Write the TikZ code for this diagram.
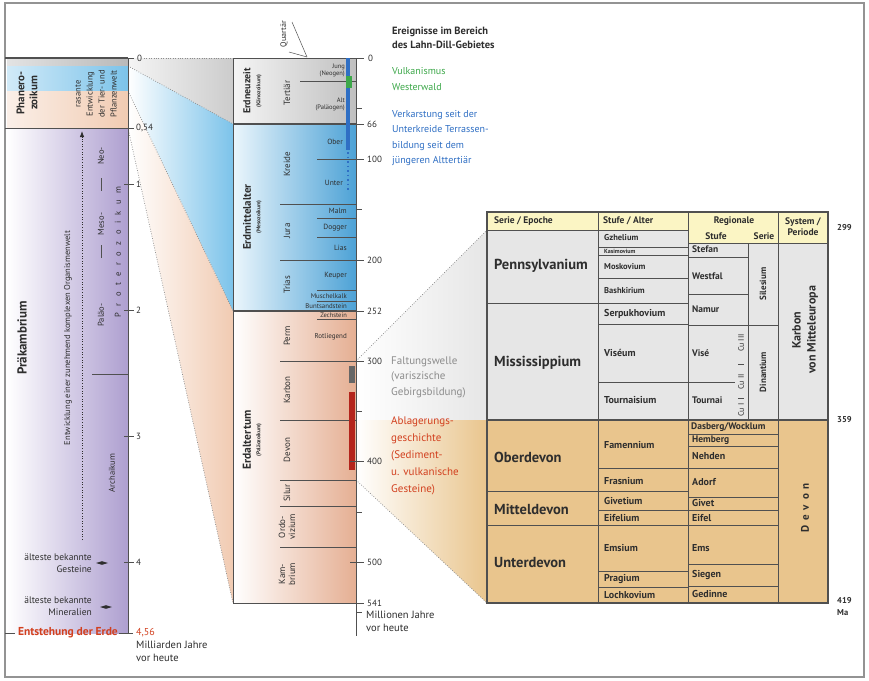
\documentclass[tikz,border=0pt]{standalone}
\usepackage{fontspec}
\setmainfont{PT Sans}
\usetikzlibrary{arrows.meta}
\definecolor{tabgrey}{HTML}{E6E6E6}
\definecolor{tabtan}{HTML}{E9C58D}
\definecolor{hdryel}{HTML}{FBF5C4}
\definecolor{lineg}{HTML}{505050}
\definecolor{meso}{HTML}{4DA2D6}
\definecolor{mesolt}{HTML}{7CC3EA}
\definecolor{paleo}{HTML}{E5AF93}
\definecolor{paleolt}{HTML}{F1CBB2}
\definecolor{kaeno}{HTML}{B9B9B9}
\definecolor{prae}{HTML}{AE9FD0}
\definecolor{evgreen}{HTML}{3DA84A}
\definecolor{evblue}{HTML}{2F6FC4}
\definecolor{evred}{HTML}{D2401F}
\definecolor{evgrey}{HTML}{8C8C8C}
\definecolor{txt}{HTML}{2E2E2E}
\definecolor{redbar}{HTML}{B3241B}
\newcommand{\fsz}[2]{\fontsize{#1}{#2}\selectfont}
\newcommand{\lsp}{\hspace{6.5pt}}
\newcommand{\dsp}{\hspace{5pt}}
\begin{document}
\begin{tikzpicture}[x=1pt,y=-1pt,
  sepl/.style={draw=lineg, line width=0.9pt},
  dotl/.style={draw=gray!90, line width=0.7pt, dash pattern=on 0.8pt off 1.6pt},
  lab/.style={inner sep=0pt, text=txt},
  rot/.style={lab, rotate=90, align=center},
  tk/.style={draw=lineg, line width=0.8pt},
  num/.style={lab, anchor=west, font=\fsz{9}{10}},
  colA/.style={lab, anchor=west, font=\fsz{14.5}{16}\bfseries},
  colB/.style={lab, anchor=west, font=\fsz{10}{11}\bfseries},
  colP/.style={lab, anchor=west, font=\fsz{8.5}{9}\bfseries},
  colR/.style={lab, anchor=west, font=\fsz{9.5}{10}\bfseries},
  hdr/.style={lab, font=\fsz{9.5}{10}\bfseries},
  sub/.style={lab, anchor=east, font=\fsz{7.5}{8}},
  ev/.style={lab, anchor=west, align=left, font=\fsz{10}{15.5}},
  tnum/.style={lab, anchor=west, font=\fsz{8.5}{9}\bfseries},
  per/.style={rot, font=\fsz{9}{10}},
]
\useasboundingbox (0,0) rectangle (869,680);
\fill[white] (0,0) rectangle (869,680);
\draw[gray!85, line width=1.2pt] (5,3) rectangle (864,677);

% ---------- wedges left -> middle
\shade[left color=gray!8, right color=gray!40] (128,58) -- (233,58) -- (233,124) -- (128,66) -- cycle;
\shade[left color=white, right color=mesolt] (128,66) -- (233,124) -- (233,311) -- (128,91) -- cycle;
\shade[left color=white, right color=paleolt] (128,91) -- (233,311) -- (233,603) -- (128,128) -- cycle;
\draw[dotl] (144,58) -- (233,58);
\draw[dotl] (128,66) -- (233,124);
\draw[dotl] (128,91) -- (233,311);
\draw[dotl] (128,128) -- (233,603);

% ---------- wedges middle -> table
\shade[left color=white, right color=tabgrey] (356,361) -- (487,230) -- (487,420) -- (356,420) -- cycle;
\shade[left color=white, right color=tabtan] (356,420) -- (487,420) -- (487,603) -- (356,480) -- cycle;
\draw[dotl] (356,361) -- (487,230);
\draw[dotl] (356,480) -- (487,603);

% ---------- left column
\shade[left color=kaeno!40, right color=kaeno] (7,58) rectangle (128,66);
\shade[left color=mesolt!35, right color=mesolt] (7,66) rectangle (128,91);
\shade[left color=paleolt!30, right color=paleolt] (7,91) rectangle (128,128);
\shade[left color=white, right color=prae] (7,128) rectangle (128,633);
\draw[lineg, line width=1.3pt] (5,58) -- (128,58);
\draw[lineg, line width=1pt] (5,128) -- (128,128);
\draw[lineg, line width=1pt] (128,58) -- (128,633);
\draw[lineg, line width=1pt] (92,374) -- (128,374);
\draw[lineg, line width=0.8pt] (5,633) -- (15,633);
\draw[lineg, line width=0.8pt] (119,633) -- (133,633);
\foreach \yy in {58,128,184,310,436,562} \draw[tk] (124,\yy) -- (134,\yy);

\node[num] (l0) at (137,58) {0};
\node[num] (l054) at (136,128) {0,54};
\node[num] (l1) at (136,184) {1};
\node[num] (l2) at (136,310) {2};
\node[num] (l3) at (136,436) {3};
\node[num] (l4) at (136,562) {4};
\node[num, text=evred, font=\fsz{10}{11}] (l456) at (136,633) {4,56};
\node[lab, anchor=north west, align=left, font=\fsz{10.5}{13}] (mrd) at (136,641) {Milliarden Jahre\\vor heute};

\node[rot, font=\fsz{11}{13}\bfseries] (phz) at (27,93) {Phanero-\\zoikum};
\node[rot, font=\fsz{8.5}{12}] (rasant) at (96,94) {rasante\\Entwicklung\\der Tier- und\\Pflanzenwelt};
\node[rot, font=\fsz{13}{15}\bfseries] (praek) at (22,338) {Präkambrium};
\node[rot, font=\fsz{8.5}{10}] (entw) at (68,338) {Entwicklung einer zunehmend komplexen Organismenwelt};
\node[rot, font=\fsz{8.5}{10}] (neo) at (101,156) {Neo-};
\node[rot, font=\fsz{8.5}{10}] (mesop) at (101,224) {Meso-};
\node[rot, font=\fsz{8.5}{10}] (palaeo) at (101,315) {Paläo-};
\node[rot, font=\fsz{8.5}{10}] (proter) at (118,252) {P\lsp r\lsp o\lsp t\lsp e\lsp r\lsp o\lsp z\lsp o\lsp i\lsp k\lsp u\lsp m};
\node[rot, font=\fsz{8.5}{10}] (arch) at (112,473) {Archaikum};
\draw[lineg, line width=0.8pt] (101,178) -- (101,191);
\draw[lineg, line width=0.8pt] (101,245) -- (101,258);

\coordinate (dA) at (82,540);
\coordinate (dB) at (82,131);
\draw[draw=txt, line width=0.8pt, dash pattern=on 1pt off 1.6pt, -{Latex[length=6pt,width=4.5pt]}] (dA) -- (dB);

\node[lab, anchor=east, align=right, font=\fsz{9.5}{12.5}] (gest) at (92,563) {älteste bekannte\\Gesteine};
\fill[txt] (96,563) -- (102,561.2) -- (108,563) -- (102,564.8) -- cycle;
\node[lab, anchor=east, align=right, font=\fsz{9.5}{12.5}] (miner) at (92,606) {älteste bekannte\\Mineralien};
\fill[txt] (100,607) -- (106,605.2) -- (112,607) -- (106,608.8) -- cycle;
\node[lab, anchor=east, font=\fsz{11.5}{12}\bfseries, text=evred] (erde) at (118,633) {Entstehung der Erde};

% ---------- middle column
\shade[left color=gray!8, right color=kaeno!90] (233,58) rectangle (356,124);
\shade[left color=mesolt!15, right color=meso] (233,124) rectangle (356,311);
\shade[left color=white, right color=paleo] (233,311) rectangle (356,603);
\draw[lineg, line width=1pt] (233,58) rectangle (356,603);
\draw[lineg, line width=1.2pt] (233,124) -- (356,124);
\draw[lineg, line width=1.2pt] (233,311) -- (356,311);
\foreach \yy in {204,260,361,420,480,506,547} \draw[sepl] (280,\yy) -- (356,\yy);
\foreach \yy in {159,218,237,290,301,319} \draw[sepl] (317,\yy) -- (356,\yy);
\draw[lineg, line width=0.5pt] (300,81) -- (356,81);

% bars
\fill[evblue] (346,58) rectangle (350,150);
\draw[evblue, line width=2.5pt, dash pattern=on 1.5pt off 3pt] (348,152) -- (348,190);
\fill[evgreen] (346,76) rectangle (352,88);
\fill[gray!80!black] (349,366) rectangle (355,383);
\fill[redbar] (349,392) rectangle (355,470);

% axis
\draw[lineg, line width=1pt] (356,58) -- (356,636);
\foreach \yy in {58,124,159,260,311,361,461,562,603} \draw[tk] (350,\yy) -- (364,\yy);
\foreach \yy in {108,209,411,512,612} \draw[tk] (356,\yy) -- (362,\yy);
\node[num] (m0) at (368,58) {0};
\node[num] (m66) at (367,124) {66};
\node[num] (m100) at (367,159) {100};
\node[num] (m200) at (367,260) {200};
\node[num] (m252) at (367,311) {252};
\node[num] (m300) at (367,361) {300};
\node[num] (m400) at (367,461) {400};
\node[num] (m500) at (367,562) {500};
\node[num] (m541) at (367,603) {541};
\node[lab, anchor=north west, align=left, font=\fsz{10.5}{13}] (mjv) at (366,611) {Millionen Jahre\\vor heute};

% Quartaer
\node[rot, font=\fsz{8}{9}] (quart) at (284,34) {Quartär};
\draw[lineg, line width=0.5pt] (292,22) -- (307,57);
\draw[lineg, line width=0.5pt] (289,52) -- (307,57);

% era labels
\node[rot, font=\fsz{10}{11}\bfseries] (ena) at (247,91) {Erdneuzeit};
\node[rot, font=\fsz{5.5}{7}\bfseries] (enb) at (259,91) {(Känozoikum)};
\node[rot, font=\fsz{11}{12}\bfseries] (ema) at (247,217) {Erdmittelalter};
\node[rot, font=\fsz{5.5}{7}\bfseries] (emb) at (259,217) {(Mesozoikum)};
\node[rot, font=\fsz{11.5}{12}\bfseries] (eaa) at (247,440) {Erdaltertum};
\node[rot, font=\fsz{5.5}{7}\bfseries] (eab) at (259,440) {(Paläozoikum)};

% periods
\node[per] (tert) at (287,93) {Tertiär};
\node[lab, anchor=east, align=right, font=\fsz{6.5}{7}] (jung) at (345,70) {Jung\\(Neogen)};
\node[lab, anchor=east, align=right, font=\fsz{6.5}{7}] (alt) at (345,104) {Alt\\(Paläogen)};
\node[per] (kreide) at (287,164) {Kreide};
\node[per] (jura) at (287,231) {Jura};
\node[per] (trias) at (287,285) {Trias};
\node[sub] (ober) at (343,142) {Ober};
\node[sub] (unter) at (343,183) {Unter};
\node[sub] (malm) at (347,211) {Malm};
\node[sub] (dogger) at (347,228) {Dogger};
\node[sub] (lias) at (347,248) {Lias};
\node[sub] (keuper) at (347,276) {Keuper};
\node[sub, font=\fsz{6.8}{7}] (musch) at (347,296) {Muschelkalk};
\node[sub, font=\fsz{6.8}{7}] (bunt) at (347,306) {Buntsandstein};
\node[sub, font=\fsz{6.5}{7}] (zech) at (347,315) {Zechstein};
\node[sub, font=\fsz{7}{7}] (rotl) at (347,337) {Rotliegend};
\node[per] (perm) at (287,336) {Perm};
\node[per] (karbon) at (287,390) {Karbon};
\node[per] (devon) at (287,450) {Devon};
\node[per] (silur) at (287,493) {Silur};
\node[per] (ordo) at (287,527) {Ordo-\\vizium};
\node[per] (kamb) at (287,574) {Kam-\\brium};

% ---------- event texts
\node[lab, anchor=west, align=left, font=\fsz{10.5}{13.5}\bfseries] (evt) at (392,38) {Ereignisse im Bereich\\des Lahn-Dill-Gebietes};
\node[ev, text=evgreen] (vulk) at (392,79) {Vulkanismus\\Westerwald};
\node[ev, text=evblue] (verk) at (392,138) {Verkarstung seit der\\Unterkreide Terrassen-\\bildung seit dem\\jüngeren Alttertiär};
\node[ev, text=evgrey, font=\fsz{11}{15.5}] (falt) at (391,377) {Faltungswelle\\(variszische\\Gebirgsbildung)};
\node[ev, text=evred, font=\fsz{11}{17}] (ablag) at (391,456) {Ablagerungs-\\geschichte\\(Sediment-\\u. vulkanische\\Gesteine)};

% ---------- table
\fill[hdryel] (487,212) rectangle (688,230);
\fill[hdryel] (688,212) rectangle (828,243);
\fill[tabgrey] (487,230) rectangle (688,420);
\fill[tabgrey] (688,243) rectangle (828,420);
\fill[tabtan] (487,420) rectangle (828,603);
\foreach \xx in {598,688,778} \draw[sepl] (\xx,212) -- (\xx,603);
\draw[sepl] (748,243) -- (748,420);
\draw[sepl] (487,230) -- (688,230);
\draw[sepl] (688,243) -- (828,243);
\draw[lineg, line width=1.1pt] (487,420) -- (828,420);
\foreach \yy in {303,491,525} \draw[sepl] (487,\yy) -- (598,\yy);
\foreach \yy in {247,255,278,303,324,382,468,491,510,525,571,587} \draw[sepl] (598,\yy) -- (688,\yy);
\foreach \yy in {257,294} \draw[sepl] (688,\yy) -- (748,\yy);
\draw[sepl] (688,325) -- (778,325);
\draw[sepl] (688,382) -- (735,382);
\foreach \yy in {434,446,468,497,510,525,564,586} \draw[sepl] (688,\yy) -- (778,\yy);
\draw[lineg, line width=1.1pt] (487,212) rectangle (828,603);

\node[hdr, anchor=west] (h1) at (494,221) {Serie / Epoche};
\node[hdr, anchor=west] (h2) at (603,221) {Stufe / Alter};
\node[hdr] (h3) at (734,221) {Regionale};
\node[hdr] (h3a) at (716,236) {Stufe};
\node[hdr] (h3b) at (764,236) {Serie};
\node[hdr, align=center, font=\fsz{9.5}{11}\bfseries] (h4) at (803,227) {System /\\Periode};

\node[colA] (pen) at (494,266) {Pennsylvanium};
\node[colA] (mis) at (494,363) {Mississippium};
\node[colA] (obd) at (494,457) {Oberdevon};
\node[colA] (mid) at (494,509) {Mitteldevon};
\node[colA] (und) at (494,563) {Unterdevon};

\node[colP] (s1) at (604,238) {Gzhelium};
\node[colP, font=\fsz{6}{6}\bfseries] (s2) at (604,251) {Kasimovium};
\node[colP] (s3) at (604,267) {Moskovium};
\node[colP] (s4) at (604,291) {Bashkirium};
\node[colB] (s5) at (604,314) {Serpukhovium};
\node[colB] (s6) at (604,353) {Viséum};
\node[colB] (s7) at (604,400) {Tournaisium};
\node[colB] (s8) at (604,445) {Famennium};
\node[colB] (s9) at (604,481) {Frasnium};
\node[colB] (s10) at (604,501) {Givetium};
\node[colB] (s11) at (604,518) {Eifelium};
\node[colB] (s12) at (604,548) {Emsium};
\node[colB] (s13) at (604,579) {Pragium};
\node[colB] (s14) at (604,595) {Lochkovium};

\node[colR] (r1) at (692,249) {Stefan};
\node[colR] (r2) at (692,276) {Westfal};
\node[colR] (r3) at (692,309) {Namur};
\node[colR] (r4) at (692,353) {Visé};
\node[colR] (r5) at (692,400) {Tournai};
\node[colB, font=\fsz{9.5}{10}\bfseries] (r6) at (691,427) {Dasberg/Wocklum};
\node[colB, font=\fsz{9.5}{10}\bfseries] (r7) at (692,440) {Hemberg};
\node[colB] (r8) at (692,456) {Nehden};
\node[colB] (r9) at (692,482) {Adorf};
\node[colB] (r10) at (692,503) {Givet};
\node[colB] (r11) at (692,518) {Eifel};
\node[colB] (r12) at (692,548) {Ems};
\node[colB] (r13) at (692,575) {Siegen};
\node[colB] (r14) at (692,594) {Gedinne};

\node[rot, font=\fsz{9}{10}\bfseries] (sil) at (763,284) {Silesium};
\node[rot, font=\fsz{9}{10}\bfseries] (din) at (763,372) {Dinantium};
\node[rot, font=\fsz{8}{9}] (cu3) at (741,343) {Cu III};
\node[rot, font=\fsz{8}{9}] (cu2) at (741,382) {Cu II};
\node[rot, font=\fsz{8}{9}] (cu1) at (741,410) {Cu I};
\draw[lineg, line width=0.6pt] (738,364) -- (744,364);
\draw[lineg, line width=0.6pt] (738,398) -- (744,398);

\node[rot, font=\fsz{12}{15}\bfseries] (kvm) at (805,330) {Karbon\\von Mitteleuropa};
\node[rot, font=\fsz{11}{12}\bfseries] (dev) at (805,508) {D\dsp e\dsp v\dsp o\dsp n};

\node[tnum] (t299) at (837,228) {299};
\node[tnum] (t359) at (837,420) {359};
\node[tnum] (t419) at (837,601) {419};
\node[tnum] (tma) at (837,613) {Ma};
\end{tikzpicture}
\end{document}
